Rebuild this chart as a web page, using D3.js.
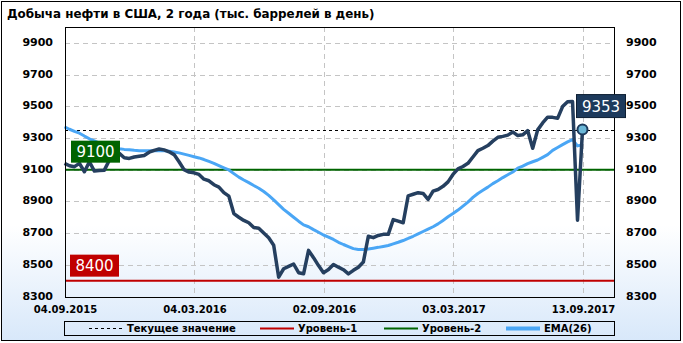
<!DOCTYPE html>
<html>
<head>
<meta charset="utf-8">
<script src="https://cdn.jsdelivr.net/npm/d3@7"></script>
<style>
  body { margin: 0; background: #fff; }
  svg { display: block; }
  text { font-family: "DejaVu Sans", Verdana, sans-serif; }
</style>
</head>
<body>
<svg id="chart" width="683" height="343"></svg>
<script>
// weekly production, thousand barrels per day (index 0..104)
const production = [
  9140, 9125, 9119, 9140, 9087, 9150, 9091, 9095, 9097, 9160,
  9185, 9203, 9175, 9171, 9180, 9185, 9190, 9210, 9222, 9230,
  9225, 9213, 9195, 9150, 9100, 9085, 9080, 9070, 9040, 9030,
  9005, 8990, 8955, 8933, 8823, 8800, 8780, 8765, 8735, 8730,
  8700, 8670, 8623, 8422, 8475, 8490, 8505, 8450, 8443, 8591,
  8545, 8495, 8450, 8470, 8502, 8485, 8469, 8443, 8465, 8485,
  8517, 8680, 8671, 8685, 8692, 8692, 8785, 8775, 8765, 8935,
  8945, 8955, 8950, 8912, 8965, 8975, 8995, 9023, 9070, 9105,
  9120, 9140, 9180, 9220, 9235, 9252, 9280, 9304, 9310, 9318,
  9338, 9315, 9320, 9346, 9235, 9351, 9395, 9431, 9430, 9424,
  9498, 9528, 9530, 8781, 9353
];
const ema26 = [
  9370, 9355, 9342, 9330, 9312, 9295, 9282, 9268, 9255, 9245,
  9238, 9232, 9228, 9225, 9222, 9220, 9220, 9219, 9220, 9221,
  9220, 9217, 9212, 9206, 9198, 9190, 9182, 9174, 9164, 9152,
  9140, 9126, 9112, 9098, 9075, 9053, 9035, 9018, 9000, 8983,
  8962, 8938, 8910, 8880, 8850, 8825, 8800, 8775, 8752, 8740,
  8722, 8705, 8688, 8675, 8660, 8642, 8628, 8615, 8602, 8596,
  8597, 8600, 8605, 8610, 8616, 8622, 8632, 8642, 8653, 8666,
  8680, 8695, 8710, 8725, 8740, 8758, 8780, 8803, 8823, 8845,
  8870, 8895, 8925, 8950, 8970, 8990, 9012, 9030, 9050, 9068,
  9085, 9110, 9122, 9138, 9150, 9161, 9178, 9195, 9222, 9240,
  9258, 9275, 9290, 9250, 9257
];
const dateTicks = [0, 26, 52, 78, 104];
const dateLabels = ['04.09.2015', '04.03.2016', '02.09.2016', '03.03.2017', '13.09.2017'];
const yTicks = [8300, 8500, 8700, 8900, 9100, 9300, 9500, 9700, 9900];
const level1 = 8400;
const level2 = 9100;
const currentValue = 9353;
const titleText = 'Добыча нефти в США, 2 года (тыс. баррелей в день)';
const legendItems = [
  {name: 'Текущее значение', color: '#000', dash: '3,3', width: 1, x: 89},
  {name: 'Уровень-1', color: '#c00000', dash: null, width: 2, x: 260},
  {name: 'Уровень-2', color: '#006400', dash: null, width: 2, x: 384},
  {name: 'EMA(26)', color: '#4aa6f5', dash: null, width: 4, x: 506}
];

const svg = d3.select('#chart');
const plot = {left: 65, right: 614, top: 27, bottom: 297};

// background gradient
const defs = svg.append('defs');
const grad = defs.append('linearGradient').attr('id', 'bg')
  .attr('x1', 0).attr('y1', 0).attr('x2', 0).attr('y2', 1);
grad.append('stop').attr('offset', '0%').attr('stop-color', '#ffffff');
grad.append('stop').attr('offset', '66%').attr('stop-color', '#ffffff');
grad.append('stop').attr('offset', '100%').attr('stop-color', '#d8e8fa');

svg.append('rect')
  .attr('x', 1.5).attr('y', 1.5).attr('width', 679).attr('height', 339)
  .attr('fill', 'url(#bg)').attr('stroke', '#000').attr('stroke-width', 1);

// title, fitted to the reference width
const title = svg.append('text')
  .attr('x', 7).attr('y', 18)
  .attr('font-size', 12).attr('font-weight', 'bold')
  .attr('fill', '#000')
  .text(titleText);
const tw = title.node().getComputedTextLength();
title.attr('font-size', 12 * 368 / tw);

// scales
const x = d3.scaleLinear().domain([0, 104]).range([64.5, 582.5]);
const y = d3.scaleLinear().domain([8300, 10000]).range([296.5, 27]);

// horizontal grid
svg.append('g').selectAll('line')
  .data(yTicks.filter(d => d > 8300))
  .join('line')
  .attr('x1', plot.left).attr('x2', plot.right)
  .attr('y1', d => Math.round(y(d)) + 0.5).attr('y2', d => Math.round(y(d)) + 0.5)
  .attr('stroke', '#c4c4c4').attr('stroke-dasharray', '5,4');

// vertical grid
svg.append('g').selectAll('line')
  .data(dateTicks.slice(1))
  .join('line')
  .attr('x1', d => Math.round(x(d)) + 0.5).attr('x2', d => Math.round(x(d)) + 0.5)
  .attr('y1', plot.top).attr('y2', plot.bottom)
  .attr('stroke', '#c4c4c4').attr('stroke-dasharray', '5,4');

// y axis labels (left and right)
const yl = svg.append('g').attr('font-size', 11).attr('font-weight', 'bold');
yl.selectAll('text.left')
  .data(yTicks).join('text').attr('class', 'left')
  .attr('x', 53).attr('y', d => y(d))
  .attr('text-anchor', 'end').attr('dominant-baseline', 'middle')
  .text(d => d);
yl.selectAll('text.right')
  .data(yTicks).join('text').attr('class', 'right')
  .attr('x', 626).attr('y', d => y(d))
  .attr('text-anchor', 'start').attr('dominant-baseline', 'middle')
  .text(d => d);

// x axis labels
svg.append('g').attr('font-size', 10).attr('font-weight', 'bold')
  .selectAll('text')
  .data(dateTicks).join('text')
  .attr('x', d => x(d) + 1).attr('y', 313)
  .attr('text-anchor', 'middle')
  .text((d, i) => dateLabels[i]);

// level lines
svg.append('line')
  .attr('x1', plot.left).attr('x2', plot.right)
  .attr('y1', y(level1)).attr('y2', y(level1))
  .attr('stroke', '#c00000').attr('stroke-width', 2);
svg.append('line')
  .attr('x1', plot.left).attr('x2', plot.right)
  .attr('y1', y(level2)).attr('y2', y(level2))
  .attr('stroke', '#006400').attr('stroke-width', 2);

// current value line
svg.append('line')
  .attr('x1', plot.left).attr('x2', plot.right)
  .attr('y1', Math.round(y(currentValue)) + 0.5).attr('y2', Math.round(y(currentValue)) + 0.5)
  .attr('stroke', '#000').attr('stroke-dasharray', '3,3');

// EMA line
const line = d3.line().x((d, i) => x(i)).y(d => y(d));
svg.append('path')
  .datum(ema26)
  .attr('d', line)
  .attr('fill', 'none')
  .attr('stroke', '#4aa6f5')
  .attr('stroke-width', 3)
  .attr('stroke-linejoin', 'round');

// production line
svg.append('path')
  .datum(production)
  .attr('d', line)
  .attr('fill', 'none')
  .attr('stroke', '#253f5f')
  .attr('stroke-width', 3.5)
  .attr('stroke-linejoin', 'round');

// plot frame
svg.append('rect')
  .attr('x', plot.left + 0.5).attr('y', plot.top + 0.5)
  .attr('width', plot.right - plot.left).attr('height', plot.bottom - plot.top)
  .attr('fill', 'none').attr('stroke', '#000');

// last point marker
const lastI = production.length - 1;
svg.append('circle')
  .attr('cx', x(lastI)).attr('cy', y(production[lastI]))
  .attr('r', 5)
  .attr('fill', '#6cb8d8').attr('stroke', '#1d3a5c').attr('stroke-width', 2);

// value boxes
function valueBox(bx, by, w, h, fill, label) {
  svg.append('rect')
    .attr('x', bx).attr('y', by).attr('width', w).attr('height', h)
    .attr('fill', fill).attr('stroke', fill === '#1d3a5c' ? '#0d1e33' : 'none');
  svg.append('text')
    .attr('x', bx + w / 2).attr('y', by + h / 2 + 1)
    .attr('text-anchor', 'middle').attr('dominant-baseline', 'middle')
    .attr('font-size', 15).attr('fill', '#fff')
    .text(label);
}
valueBox(71, y(level2) - 29, 49, 22, '#006400', level2);
valueBox(70, y(level1) - 26, 49, 22, '#c00000', level1);
valueBox(x(lastI) - 6, y(production[lastI]) - 35, 49, 23, '#1d3a5c', currentValue);

// legend
svg.append('rect')
  .attr('x', 64.5).attr('y', 321.5).attr('width', 550).attr('height', 14)
  .attr('fill', 'none').attr('stroke', '#000');
const lg = svg.append('g').selectAll('g').data(legendItems).join('g');
lg.append('line')
  .attr('x1', d => d.x).attr('x2', d => d.x + 34)
  .attr('y1', 328.5).attr('y2', 328.5)
  .attr('stroke', d => d.color)
  .attr('stroke-width', d => d.width)
  .attr('stroke-dasharray', d => d.dash);
lg.append('text')
  .attr('x', d => d.x + 38).attr('y', 332)
  .attr('font-size', 10).attr('font-weight', 'bold')
  .text(d => d.name);
</script>
</body>
</html>
